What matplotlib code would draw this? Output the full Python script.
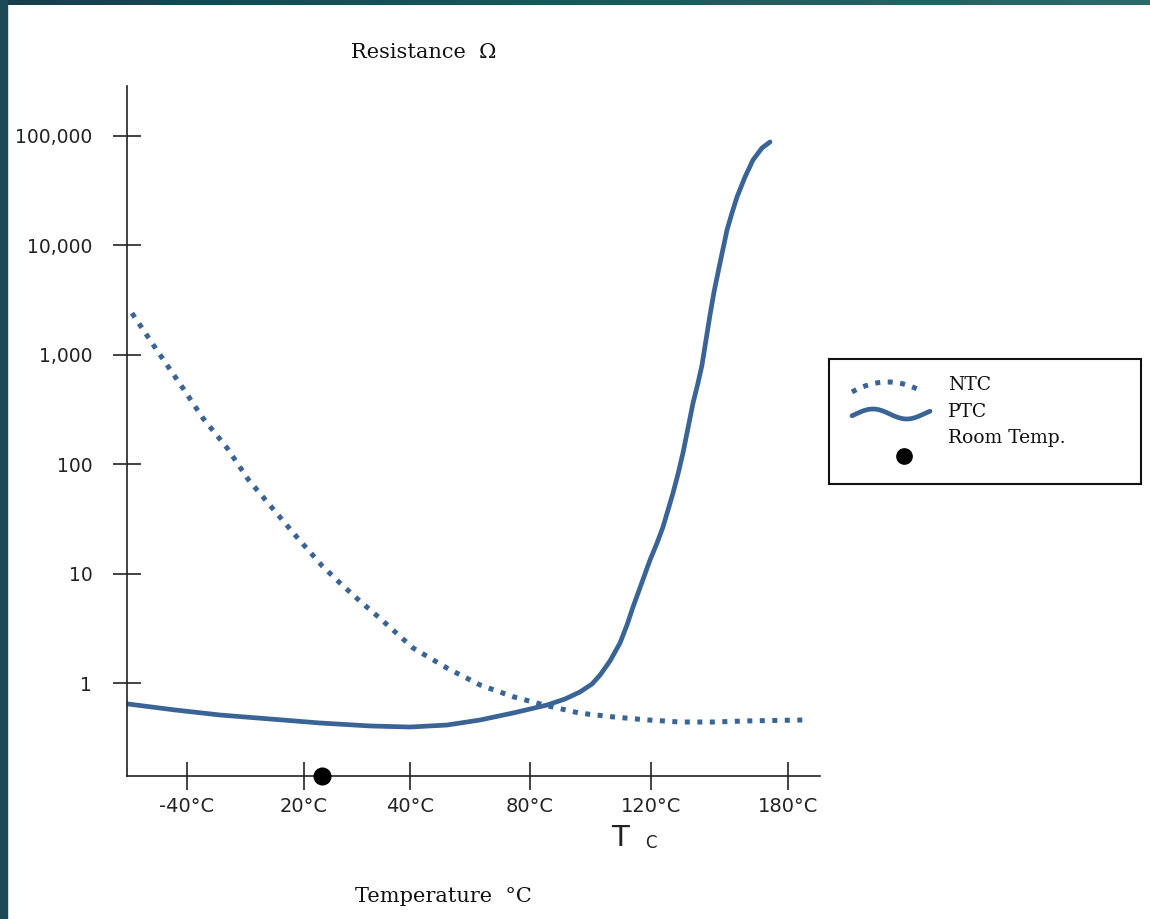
import numpy as np
import matplotlib
matplotlib.use('Agg')
import matplotlib.pyplot as plt
from matplotlib.patches import Rectangle

# x axis is a schematic (non linear) temperature axis, in axis units
tick_pos = [60, 177, 283, 403, 524, 661]
tick_lab = ['-40\u00b0C', '20\u00b0C', '40\u00b0C', '80\u00b0C', '120\u00b0C', '180\u00b0C']
y_ticks = [1, 10, 100, 1000, 10000, 100000]
y_lab = ['1', '10', '100', '1,000', '10,000', '100,000']

# NTC thermistor (dotted)
ntc_x = [5, 33, 55, 76, 100, 121, 145, 170, 195, 213, 233, 253, 286, 320, 353,
         386, 420, 453, 486, 520, 553, 586, 620, 680]
ntc_r = [2400, 1000, 510, 263, 141, 73, 40, 21.5, 11.8, 8.2, 5.6, 3.9, 2.09, 1.37,
         0.96, 0.75, 0.62, 0.53, 0.49, 0.46, 0.44, 0.44, 0.45, 0.46]

# PTC thermistor (solid)
ptc_x = [1, 48, 93, 143, 193, 243, 283, 320, 353, 386, 420, 438, 453, 465, 473,
         483, 493, 500, 506, 514, 523, 530, 536, 541, 546, 551, 556, 561, 566,
         571, 575, 579, 583, 587, 593, 600, 605, 610, 618, 626, 635, 643]
ptc_r = [0.643, 0.567, 0.510, 0.469, 0.431, 0.405, 0.396, 0.413, 0.459, 0.532,
         0.629, 0.714, 0.828, 0.979, 1.18, 1.59, 2.32, 3.39, 4.95, 7.87, 13.3,
         19.0, 26.7, 38.1, 54.5, 81.3, 127, 214, 362, 552, 807, 1366, 2312,
         3750, 6900, 13800, 19800, 27700, 42200, 60400, 77700, 88200]

room_x = 195

blue = '#3a6496'
narrow = ['Liberation Sans Narrow', 'DejaVu Sans']

fig = plt.figure(figsize=(11.5, 9.19), dpi=100)
fig.patch.set_facecolor('white')

# dark frame at top and left edges
top = fig.add_axes([0, 1 - 5/919, 1, 5/919])
top.imshow(np.linspace(0, 1, 256)[None, :], aspect='auto',
           cmap=matplotlib.colors.LinearSegmentedColormap.from_list('f', ['#173e4e', '#2b6b69']))
top.axis('off')
fig.patches.append(Rectangle((0, 0), 7/1150, 1, transform=fig.transFigure,
                             color='#1c4858', zorder=0))

ax = fig.add_axes([127/1150, 143/919, 693/1150, 690/919])
ax.set_yscale('log')
ax.plot(ntc_x, ntc_r, color=blue, lw=3.6, linestyle=(0, (1, 1.5)),
        dash_capstyle='butt')
ax.plot(ptc_x, ptc_r, color=blue, lw=3.4, solid_capstyle='round',
        solid_joinstyle='round')
ymin = 10 ** -0.85
ax.plot([room_x], [ymin], 'o', color='black', ms=12, clip_on=False, zorder=5)

ax.set_xlim(0, 693)
ax.set_ylim(ymin, 10 ** 5.457)
ax.spines['top'].set_visible(False)
ax.spines['right'].set_visible(False)
for s in ['left', 'bottom']:
    ax.spines[s].set_linewidth(1.2)
    ax.spines[s].set_color('#222222')
ax.set_xticks(tick_pos)
ax.set_xticklabels(tick_lab, family=narrow, fontsize=14)
ax.set_yticks(y_ticks)
ax.set_yticklabels(y_lab, family='DejaVu Sans', fontsize=13.5)
ax.yaxis.set_minor_locator(matplotlib.ticker.NullLocator())
ax.tick_params(axis='y', direction='inout', length=20, width=1.2, pad=15, colors='#222222')
ax.tick_params(axis='x', direction='inout', length=20, width=1.2, pad=5, colors='#222222')

fig.text(424/1150, 1 - 52/919, 'Resistance  \u03a9', family='DejaVu Serif',
         fontsize=15, ha='center', va='center', color='#111111')
fig.text(443/1150, 1 - 897/919, 'Temperature  \u00b0C', family='DejaVu Serif',
         fontsize=15, ha='center', va='center', color='#111111')
fig.text(620/1150, 1 - 838/919, 'T', family=narrow, fontsize=21,
         ha='center', va='center', color='#222222')
fig.text(651/1150, 1 - 843/919, 'C', family=narrow, fontsize=12,
         ha='center', va='center', color='#222222')

# legend box drawn by hand
lax = fig.add_axes([829/1150, 1 - 484/919, 312/1150, 125/919])
lax.set_xlim(0, 312)
lax.set_ylim(125, 0)
lax.set_xticks([])
lax.set_yticks([])
for s in lax.spines.values():
    s.set_linewidth(1.5)
    s.set_color('#111111')
t = np.linspace(0, 1, 40)
lax.plot(23 + 71 * t, 33 - 40 * t * (1 - t), color=blue, lw=3.6,
         linestyle=(0, (1, 1.5)), dash_capstyle='butt')
lax.plot(23 + 78 * t, 55 - 5 * np.sin(2 * np.pi * (t - 0.05) * 1.15), color=blue,
         lw=3.4, solid_capstyle='round')
lax.plot([75], [97], 'o', color='black', ms=11)
for yy, lab in zip([26, 53, 79], ['NTC', 'PTC', 'Room Temp.']):
    lax.text(119, yy, lab, family='DejaVu Serif', fontsize=13.5,
             va='center', ha='left', color='#111111')

fig.savefig('out.png', dpi=100, facecolor='white')
